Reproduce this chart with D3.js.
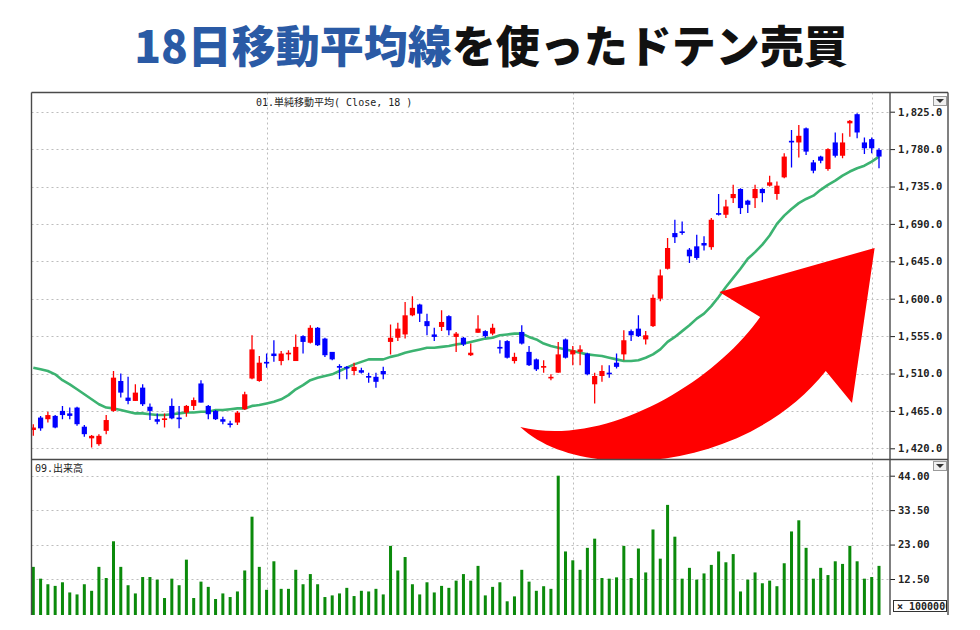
<!DOCTYPE html>
<html lang="ja">
<head>
<meta charset="utf-8">
<title>18日移動平均線を使ったドテン売買</title>
<script src="https://cdn.jsdelivr.net/npm/d3@7"></script>
<style>
	body { margin: 0; background: #fff; }
	svg { display: block; }
	.title { font-family: "Noto Sans CJK JP", sans-serif; font-weight: 900; font-size: 44px; }
	.axis-label text { font-family: "DejaVu Sans Mono", monospace; font-size: 10.5px; font-weight: bold; fill: #222; }
	.panel-label { font-family: "DejaVu Sans Mono", "Noto Sans CJK JP", monospace; font-size: 10px; fill: #222; }
</style>
</head>
<body>
<svg id="chart" width="980" height="630"></svg>
<script>

// candle values (index 0 .. 116)
var opens = [
	1442,1457,1455,1459,1465,1462,1469,1446,1432,1425,
	1441,1465,1501,1481,1477,1493,1470,1455,1455,1471,
	1457,1463,1471,1498,1471,1465,1455,1450,1451,1467,
	1504,1501,1524,1534,1525,1533,1525,1555,1547,1565,
	1552,1536,1519,1518,1513,1514,1507,1506,1513,1548,
	1553,1557,1580,1593,1573,1557,1566,1579,1554,1553,
	1532,1559,1561,1558,1542,1549,1525,1560,1536,1527,
	1517,1505,1511,1551,1533,1536,1534,1497,1507,1511,
	1523,1533,1561,1564,1551,1567,1600,1636,1679,1681,
	1659,1663,1667,1662,1703,1701,1721,1732,1718,1721,
	1732,1736,1726,1746,1790,1788,1805,1764,1771,1756,
	1788,1772,1811,1822,1788,1792,1779
];
var closes = [
	1445,1444,1460,1445,1460,1459,1449,1437,1435,1435,
	1454,1505,1487,1477,1487,1473,1465,1452,1456,1456,
	1455,1471,1478,1475,1461,1455,1452,1448,1463,1485,
	1539,1523,1522,1531,1534,1535,1542,1548,1565,1544,
	1532,1527,1517,1516,1518,1511,1505,1500,1509,1553,
	1564,1580,1589,1582,1567,1554,1572,1562,1558,1545,
	1535,1564,1555,1565,1540,1529,1530,1546,1520,1515,
	1519,1506,1533,1529,1538,1539,1509,1507,1513,1510,
	1518,1550,1556,1555,1556,1601,1628,1661,1674,1680,
	1651,1649,1664,1695,1701,1711,1726,1709,1713,1732,
	1727,1740,1736,1771,1788,1796,1777,1754,1766,1780,
	1772,1788,1814,1800,1781,1781,1771
];
var highs = [
	1449,1459,1464,1460,1471,1469,1470,1448,1436,1437,
	1460,1513,1510,1506,1497,1497,1474,1462,1462,1480,
	1471,1472,1481,1502,1472,1466,1458,1453,1465,1488,
	1556,1531,1534,1550,1537,1538,1557,1556,1568,1566,
	1553,1536,1521,1519,1523,1517,1511,1511,1518,1569,
	1571,1596,1603,1594,1582,1565,1586,1580,1560,1554,
	1546,1580,1562,1570,1550,1550,1535,1568,1543,1528,
	1526,1509,1548,1552,1543,1544,1535,1511,1520,1520,
	1534,1562,1563,1580,1561,1605,1635,1673,1695,1693,
	1661,1677,1675,1697,1726,1719,1737,1733,1719,1737,
	1733,1748,1741,1775,1803,1809,1806,1767,1772,1781,
	1800,1799,1815,1823,1794,1794,1781
];
var lows = [
	1435,1441,1451,1444,1455,1455,1447,1434,1421,1423,
	1437,1464,1481,1473,1477,1471,1454,1449,1445,1455,
	1444,1458,1466,1475,1455,1454,1449,1445,1448,1466,
	1503,1500,1517,1524,1520,1526,1525,1534,1546,1543,
	1530,1526,1503,1503,1508,1510,1499,1493,1503,1533,
	1549,1552,1579,1572,1556,1549,1561,1556,1536,1543,
	1531,1559,1553,1556,1534,1528,1522,1545,1519,1513,
	1511,1502,1511,1528,1520,1520,1508,1474,1500,1505,
	1516,1526,1549,1554,1545,1566,1597,1635,1667,1677,
	1643,1647,1658,1659,1700,1697,1715,1702,1703,1709,
	1716,1735,1719,1745,1758,1770,1773,1751,1763,1754,
	1770,1769,1795,1793,1774,1775,1757
];
// 18-day simple moving average as drawn in the picture
var maValues = [
	1517,1515,1513,1509,1502,1497,1491,1485,1479,1473,
	1469,1468,1466,1464,1462,1462,1461,1460,1460,1461,
	1462,1463,1463,1464,1464,1466,1466,1467,1468,1468,
	1471,1472,1474,1476,1479,1484,1491,1496,1502,1505,
	1507,1509,1513,1517,1521,1524,1527,1527,1527,1530,
	1532,1535,1537,1539,1541,1541,1542,1543,1545,1546,
	1548,1550,1552,1553,1556,1557,1558,1558,1554,1551,
	1546,1543,1541,1539,1537,1535,1533,1532,1531,1529,
	1527,1525,1525,1526,1529,1533,1539,1548,1554,1561,
	1568,1576,1582,1591,1602,1614,1625,1636,1648,1656,
	1665,1676,1690,1700,1708,1715,1720,1724,1731,1737,
	1742,1748,1753,1757,1760,1765,1771
];
// volume, x 100000
var volumes = [
	16.2,12.6,10.9,10.4,11.5,8.4,7.8,10.9,8.9,16.2,
	12.8,24.0,16.2,10.6,8.1,13.1,13.1,12.3,6.7,12.6,
	10.6,18.4,6.7,11.7,10.1,6.4,8.1,7.0,8.7,15.1,
	31.5,16.2,9.2,17.9,9.5,9.5,15.3,10.9,14.0,10.9,
	7.0,7.5,8.1,9.8,7.3,8.9,8.7,9.5,7.8,22.6,
	15.1,19.2,10.9,7.8,11.5,8.4,10.4,9.8,12.0,14.0,
	12.0,16.5,7.5,10.1,11.5,5.7,7.2,15.3,11.7,8.9,
	10.3,9.5,44.0,20.9,18.2,15.3,22.0,24.8,12.8,12.6,
	13.0,22.6,12.8,21.8,14.5,27.6,18.7,35.1,25.4,12.6,
	15.9,12.3,14.2,16.8,20.9,17.6,20.1,8.7,12.3,14.5,
	11.2,12.0,10.3,17.3,27.0,30.4,22.0,12.6,15.9,13.7,
	17.9,17.1,22.6,17.9,12.6,13.1,16.5
];

var priceTicks = [1420, 1465, 1510, 1555, 1600, 1645, 1690, 1735, 1780, 1825];
var volumeTicks = [12.5, 23, 33.5, 44];
var gridCandles = [32, 74, 115];

// big red arrow, in (candle index, price) units
var arrowTail = [66.8, 1445.6];
var arrowOuter = [[75.0, 1378], [97.5, 1390], [108.7, 1513]];
var arrowHead = [[112.3, 1474.5], [115.4, 1661], [94.1, 1608], [99.7, 1578]];
var arrowInner = [[93.5, 1500], [78.5, 1420], [66.8, 1445.6]];

var titleBlue = '18日移動平均線';
var titleBlack = 'を使ったドテン売買';

var frame = {l: 31.5, r: 890, outer: 948, t: 92.5, split: 459.5, b: 615};
var upColor = '#ff0000', downColor = '#0000ff';

var svg = d3.select('#chart');

var x = d3.scaleLinear().domain([0, opens.length - 1]).range([33.3, 879]);
var yPrice = d3.scaleLinear().domain([1420, 1825]).range([448.3, 111.7]);
var yVol = d3.scaleLinear().domain([12.5, 44]).range([579, 475.7]);

// title
var title = svg.append('text').attr('class', 'title')
	.attr('x', 491).attr('y', 63).attr('text-anchor', 'middle');
title.append('tspan').attr('fill', '#2a5aa5').text(titleBlue);
title.append('tspan').attr('fill', '#111').text(titleBlack);

var defs = svg.append('defs');
defs.append('clipPath').attr('id', 'price-clip').append('rect')
	.attr('x', frame.l).attr('y', frame.t).attr('width', frame.r - frame.l).attr('height', frame.split - frame.t);
defs.append('clipPath').attr('id', 'mult-clip').append('rect')
	.attr('x', 893).attr('y', 600).attr('width', 54).attr('height', 12);

// gridlines
var grid = svg.append('g').attr('stroke', '#bdbdbd').attr('stroke-dasharray', '2,3').attr('stroke-width', 1);
priceTicks.forEach(function(p) {
	grid.append('line').attr('x1', frame.l).attr('x2', frame.r)
		.attr('y1', Math.round(yPrice(p)) + 0.5).attr('y2', Math.round(yPrice(p)) + 0.5);
});
volumeTicks.forEach(function(v) {
	grid.append('line').attr('x1', frame.l).attr('x2', frame.r)
		.attr('y1', Math.round(yVol(v)) + 0.5).attr('y2', Math.round(yVol(v)) + 0.5);
});
gridCandles.forEach(function(i) {
	grid.append('line').attr('x1', Math.round(x(i)) + 0.5).attr('x2', Math.round(x(i)) + 0.5)
		.attr('y1', frame.t).attr('y2', frame.b);
});

// volume bars
svg.append('g').selectAll('rect')
	.data(volumes)
	.enter()
	.append('rect')
	.attr('x', function(d, i) { return x(i) - 1.5; })
	.attr('y', function(d) { return yVol(d); })
	.attr('width', 3)
	.attr('height', function(d) { return frame.b - yVol(d); })
	.attr('fill', '#0b8a0b');

var priceG = svg.append('g').attr('clip-path', 'url(#price-clip)');

// moving average
var maLine = d3.line()
	.x(function(d, i) { return x(i); })
	.y(function(d) { return yPrice(d); });
priceG.append('path').datum(maValues)
	.attr('d', maLine)
	.attr('fill', 'none')
	.attr('stroke', '#3cb371')
	.attr('stroke-width', 2.6)
	.attr('stroke-linejoin', 'round');

// candles
var candles = priceG.append('g').selectAll('g')
	.data(opens)
	.enter()
	.append('g')
	.attr('fill', function(d, i) { return closes[i] >= d ? upColor : downColor; })
	.attr('stroke', function(d, i) { return closes[i] >= d ? upColor : downColor; });

candles.append('line')
	.attr('x1', function(d, i) { return x(i); })
	.attr('x2', function(d, i) { return x(i); })
	.attr('y1', function(d, i) { return yPrice(highs[i]); })
	.attr('y2', function(d, i) { return yPrice(lows[i]); })
	.attr('stroke-width', 1.3);

candles.append('rect')
	.attr('x', function(d, i) { return x(i) - 2.6; })
	.attr('width', 5.2)
	.attr('y', function(d, i) { return yPrice(Math.max(d, closes[i])); })
	.attr('height', function(d, i) { return Math.max(1.6, Math.abs(yPrice(d) - yPrice(closes[i]))); })
	.attr('stroke', 'none');

// arrow
var ap = d3.path();
var pt = function(p) { return [x(p[0]), yPrice(p[1])]; };
var t0 = pt(arrowTail);
ap.moveTo(t0[0], t0[1]);
var o1 = pt(arrowOuter[0]), o2 = pt(arrowOuter[1]), o3 = pt(arrowOuter[2]);
ap.bezierCurveTo(o1[0], o1[1], o2[0], o2[1], o3[0], o3[1]);
arrowHead.forEach(function(p) { var q = pt(p); ap.lineTo(q[0], q[1]); });
var n1 = pt(arrowInner[0]), n2 = pt(arrowInner[1]), n3 = pt(arrowInner[2]);
ap.bezierCurveTo(n1[0], n1[1], n2[0], n2[1], n3[0], n3[1]);
ap.closePath();
priceG.append('path').attr('d', ap.toString()).attr('fill', '#ff0000');

// axes
var priceAxis = svg.append('g').attr('class', 'axis-label')
	.attr('transform', 'translate(' + frame.r + ',0)')
	.call(d3.axisRight(yPrice).tickValues(priceTicks).tickSize(5).tickPadding(3).tickFormat(d3.format(',.1f')));
var volAxis = svg.append('g').attr('class', 'axis-label')
	.attr('transform', 'translate(' + frame.r + ',0)')
	.call(d3.axisRight(yVol).tickValues(volumeTicks).tickSize(5).tickPadding(3).tickFormat(d3.format('.2f')));
svg.selectAll('.axis-label .domain').remove();
svg.selectAll('.axis-label .tick line').attr('stroke', '#222');

// frame
var fr = svg.append('g').attr('stroke', '#4a4a4a').attr('stroke-width', 1.4).attr('fill', 'none');
fr.append('line').attr('x1', frame.l).attr('x2', frame.outer).attr('y1', frame.t).attr('y2', frame.t);
fr.append('line').attr('x1', frame.l).attr('x2', frame.outer).attr('y1', frame.split).attr('y2', frame.split);
fr.append('line').attr('x1', frame.l).attr('x2', frame.l).attr('y1', frame.t).attr('y2', frame.b);
fr.append('line').attr('x1', frame.r).attr('x2', frame.r).attr('y1', frame.t).attr('y2', frame.b);
fr.append('line').attr('x1', frame.outer).attr('x2', frame.outer).attr('y1', frame.t).attr('y2', frame.b);

// panel labels
svg.append('text').attr('class', 'panel-label').attr('x', 256).attr('y', 106).text('01.単純移動平均( Close, 18 )');
svg.append('text').attr('class', 'panel-label').attr('x', 35).attr('y', 472).text('09.出来高');

// little dropdown buttons
[100, 465].forEach(function(top) {
	svg.append('rect').attr('x', 933.5).attr('y', top - 3.5).attr('width', 13).attr('height', 9)
		.attr('fill', '#f0f0f0').attr('stroke', '#9a9a9a');
	svg.append('path').attr('d', 'M936,' + (top - 1) + 'L944,' + (top - 1) + 'L940,' + (top + 3) + 'Z').attr('fill', '#333');
});

// multiplier box
svg.append('rect').attr('x', 893.5).attr('y', 600.5).attr('width', 53).attr('height', 11)
	.attr('fill', '#fff').attr('stroke', '#333');
svg.append('text').attr('class', 'panel-label').attr('clip-path', 'url(#mult-clip)')
	.attr('x', 897).attr('y', 610).style('font-weight', 'bold').text('× 1000000');

</script>
</body>
</html>
